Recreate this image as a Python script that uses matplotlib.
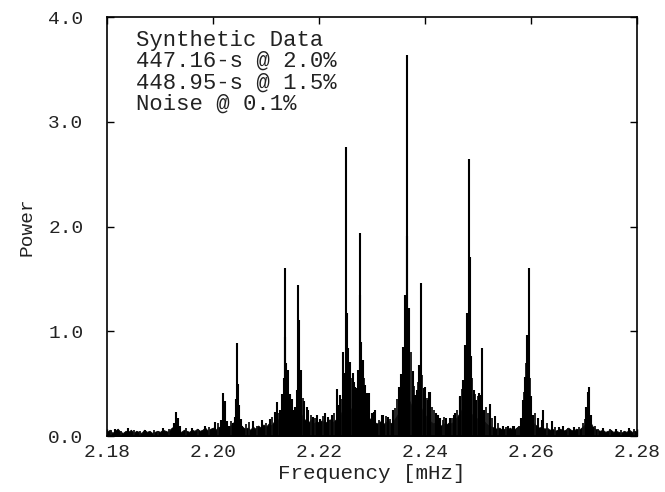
import matplotlib
matplotlib.use("Agg")
import matplotlib.pyplot as plt
import numpy as np

# background noise floor, one value every 0.0005 mHz from 2.180 to 2.280
bg_start = 2.180
bg_step = 0.0005
bg_power = [
    0.04, 0.06, 0.03, 0.05, 0.07, 0.04, 0.03, 0.05, 0.04, 0.06,
    0.03, 0.05, 0.04, 0.03, 0.06, 0.04, 0.05, 0.03, 0.04, 0.05,
    0.04, 0.06, 0.05, 0.04, 0.07, 0.09, 0.06, 0.05, 0.04, 0.06,
    0.05, 0.04, 0.06, 0.05, 0.07, 0.05, 0.06, 0.08, 0.05, 0.07,
    0.08, 0.06, 0.09, 0.07, 0.12, 0.10, 0.08, 0.11, 0.14, 0.16,
    0.12, 0.09, 0.07, 0.08, 0.06, 0.09, 0.07, 0.10, 0.08, 0.11,
    0.09, 0.12, 0.10, 0.14, 0.13, 0.18, 0.20, 0.26, 0.24, 0.18,
    0.16, 0.20, 0.26, 0.22, 0.17, 0.15, 0.13, 0.16, 0.12, 0.14,
    0.13, 0.15, 0.12, 0.14, 0.16, 0.13, 0.15, 0.18, 0.20, 0.26,
    0.32, 0.30, 0.26, 0.22, 0.24, 0.28, 0.30, 0.24, 0.20, 0.17,
    0.15, 0.13, 0.12, 0.14, 0.11, 0.13, 0.15, 0.12, 0.14, 0.18,
    0.22, 0.26, 0.30, 0.36, 0.34, 0.28, 0.24, 0.26, 0.30, 0.24,
    0.20, 0.17, 0.14, 0.12, 0.13, 0.11, 0.10, 0.12, 0.11, 0.13,
    0.12, 0.15, 0.18, 0.22, 0.26, 0.30, 0.26, 0.22, 0.20, 0.18,
    0.16, 0.18, 0.15, 0.12, 0.10, 0.09, 0.08, 0.07, 0.08, 0.06,
    0.07, 0.06, 0.08, 0.06, 0.07, 0.09, 0.10, 0.12, 0.16, 0.20,
    0.16, 0.12, 0.10, 0.08, 0.09, 0.07, 0.08, 0.06, 0.07, 0.05,
    0.06, 0.07, 0.05, 0.06, 0.08, 0.06, 0.05, 0.07, 0.06, 0.08,
    0.10, 0.14, 0.16, 0.10, 0.07, 0.06, 0.05, 0.06, 0.04, 0.05,
    0.06, 0.04, 0.05, 0.04, 0.03, 0.05, 0.04, 0.06, 0.04, 0.05,
    0.04,
]

# main spikes (frequency in mHz, power)
spike_freq = [
    2.1815, 2.1840, 2.1872, 2.1905,
    2.1924, 2.1927, 2.1930, 2.1933, 2.1937,
    2.1960, 2.1985, 2.2004,
    2.2015, 2.2018, 2.2021, 2.2023, 2.2026, 2.2030,
    2.2038, 2.2041, 2.2043, 2.2045, 2.2047, 2.2049, 2.2052, 2.2055,
    2.2075, 2.2092, 2.2107, 2.2117, 2.2120,
    2.2127, 2.2130, 2.2133, 2.2135, 2.2136, 2.2138, 2.2140, 2.2142, 2.2145, 2.2148, 2.2151,
    2.2155, 2.2158, 2.2161, 2.2163, 2.2166, 2.2172, 2.2177, 2.2179, 2.2189,
    2.2197, 2.2202, 2.2212, 2.2216, 2.2224, 2.2233, 2.2235, 2.2240,
    2.2246, 2.2249, 2.2251, 2.2252, 2.2253, 2.2255, 2.2258, 2.2264, 2.2265, 2.2268,
    2.2271, 2.2274, 2.2277, 2.2278, 2.2280, 2.2282, 2.2287, 2.2290, 2.2293, 2.2295, 2.2299, 2.2304,
    2.2306, 2.2318, 2.2321, 2.2330, 2.2339,
    2.2350, 2.2355, 2.2358, 2.2360, 2.2362, 2.2365, 2.2366, 2.2368, 2.2370, 2.2377, 2.2381,
    2.2384, 2.2389, 2.2391, 2.2392, 2.2398, 2.2400, 2.2405, 2.2408, 2.2409,
    2.2421, 2.2425, 2.2428, 2.2440, 2.2447, 2.2455, 2.2457, 2.2465,
    2.2466, 2.2471, 2.2475, 2.2479, 2.2482, 2.2484, 2.2486, 2.2492, 2.2497, 2.2502,
    2.2506, 2.2508, 2.2511, 2.2523, 2.2532, 2.2547, 2.2557, 2.2565, 2.2567,
    2.2581, 2.2584, 2.2589, 2.2593, 2.2596, 2.2600, 2.2604, 2.2614, 2.2620, 2.2622,
    2.2639, 2.2652, 2.2660, 2.2681,
    2.2704, 2.2707, 2.2710, 2.2713, 2.2716,
    2.2735, 2.2760, 2.2785,
]
spike_power = [
    0.07, 0.08, 0.06, 0.08,
    0.08, 0.12, 0.23, 0.17, 0.10,
    0.08, 0.10, 0.13,
    0.15, 0.41, 0.25, 0.33, 0.14, 0.10,
    0.12, 0.18, 0.35, 0.89, 0.50, 0.30, 0.16, 0.10,
    0.14, 0.15, 0.16, 0.23, 0.32,
    0.25, 0.40, 0.55, 1.60, 0.95, 0.70, 0.50, 0.63, 0.40, 0.35, 0.25,
    0.28, 0.44, 1.44, 1.11, 0.63, 0.33, 0.28, 0.25, 0.18,
    0.20, 0.16, 0.22, 0.18, 0.20, 0.45, 0.30, 0.39,
    0.80, 0.60, 2.76, 1.17, 0.82, 0.84, 0.71, 0.60, 0.52, 0.47,
    0.46, 0.63, 1.35, 1.94, 0.90, 0.73, 0.49, 0.41, 0.41, 0.41, 0.22, 0.23,
    0.25, 0.20, 0.20, 0.18, 0.25,
    0.47, 0.59, 0.85, 0.85, 1.35, 1.91, 3.64, 1.10, 1.22, 0.62, 0.39,
    0.44, 0.68, 0.68, 1.46, 0.46, 0.47, 0.34, 0.42, 0.42,
    0.22, 0.20, 0.17, 0.17, 0.17, 0.20, 0.22, 0.38,
    0.37, 0.53, 0.87, 1.17, 2.64, 1.71, 0.76, 0.44, 0.34, 0.41,
    0.39, 0.84, 0.25, 0.31, 0.19, 0.10, 0.10, 0.10, 0.10,
    0.17, 0.34, 0.56, 0.96, 1.60, 0.38, 0.20, 0.17, 0.15, 0.25,
    0.14, 0.09, 0.10, 0.09,
    0.28, 0.42, 0.47, 0.20, 0.09,
    0.08, 0.07, 0.08,
]

# smaller grass spikes between and around the peaks
grass_freq = [
    2.1808, 2.1826, 2.1851, 2.1863, 2.1888, 2.1897, 2.1916, 2.1948, 2.1972, 2.1993,
    2.2009, 2.2034, 2.2062, 2.2068, 2.2083, 2.2099, 2.2112, 2.2124, 2.2169, 2.2184,
    2.2193, 2.2207, 2.2220, 2.2229, 2.2243, 2.2261, 2.2284, 2.2302, 2.2313, 2.2326,
    2.2334, 2.2344, 2.2347, 2.2373, 2.2379, 2.2386, 2.2395, 2.2403, 2.2413, 2.2417,
    2.2433, 2.2436, 2.2451, 2.2461, 2.2469, 2.2489, 2.2495, 2.2499, 2.2504, 2.2515,
    2.2519, 2.2527, 2.2538, 2.2552, 2.2573, 2.2578, 2.2587, 2.2591, 2.2598, 2.2608,
    2.2630, 2.2646, 2.2670, 2.2690, 2.2698, 2.2701, 2.2720, 2.2727, 2.2748, 2.2770,
    2.2795,
]
grass_power = [
    0.06, 0.05, 0.06, 0.05, 0.06, 0.05, 0.07, 0.08, 0.07, 0.09,
    0.12, 0.14, 0.11, 0.13, 0.10, 0.12, 0.18, 0.22, 0.36, 0.20,
    0.17, 0.19, 0.15, 0.22, 0.35, 0.55, 0.55, 0.18, 0.15, 0.19,
    0.16, 0.27, 0.35, 0.80, 0.48, 0.52, 0.58, 0.36, 0.28, 0.25,
    0.15, 0.18, 0.17, 0.25, 0.45, 0.55, 0.40, 0.38, 0.33, 0.28,
    0.22, 0.17, 0.12, 0.09, 0.08, 0.10, 0.42, 0.70, 0.55, 0.22,
    0.12, 0.09, 0.08, 0.09, 0.12, 0.16, 0.10, 0.07, 0.07, 0.06,
    0.07,
]

text_lines = ["Synthetic Data", "447.16-s @ 2.0%", "448.95-s @ 1.5%", "Noise @ 0.1%"]

plt.rcParams["font.family"] = ["Liberation Mono", "DejaVu Sans Mono"]

fig = plt.figure(figsize=(6.65, 4.92), dpi=100)
ax = fig.add_axes([0.161, 0.1138, 0.797, 0.8516])

bg_freq = bg_start + bg_step * np.arange(len(bg_power))
ax.fill_between(bg_freq, 0, bg_power, color="black", lw=0.6)
ax.vlines(grass_freq, 0, grass_power, color="#111111", lw=1.3)
ax.vlines(spike_freq, 0, spike_power, color="black", lw=1.5)

ax.set_xlim(2.18, 2.28)
ax.set_ylim(0, 4.0)
ax.set_xticks([2.18, 2.20, 2.22, 2.24, 2.26, 2.28])
ax.set_xticklabels(["2.18", "2.20", "2.22", "2.24", "2.26", "2.28"])
ax.set_yticks([0, 1, 2, 3, 4])
ax.set_yticklabels(["0.0", "1.0", "2.0", "3.0", "4.0"])
ax.tick_params(direction="in", length=5, width=1, top=True, right=True,
               labelsize=14, labelcolor="#222222")
ax.tick_params(axis="y", pad=17)
ax.tick_params(axis="x", pad=6)
for s in ax.spines.values():
    s.set_linewidth(1.2)

ax.set_xlabel("Frequency [mHz]", fontsize=15, labelpad=2, color="#222222")
ax.set_ylabel("Power", fontsize=14, labelpad=9, color="#222222")

ax.text(0.054, 0.97, "\n".join(text_lines), transform=ax.transAxes,
        fontsize=16, va="top", ha="left", linespacing=1.02, color="#222222")

fig.savefig("out.png", dpi=100)
